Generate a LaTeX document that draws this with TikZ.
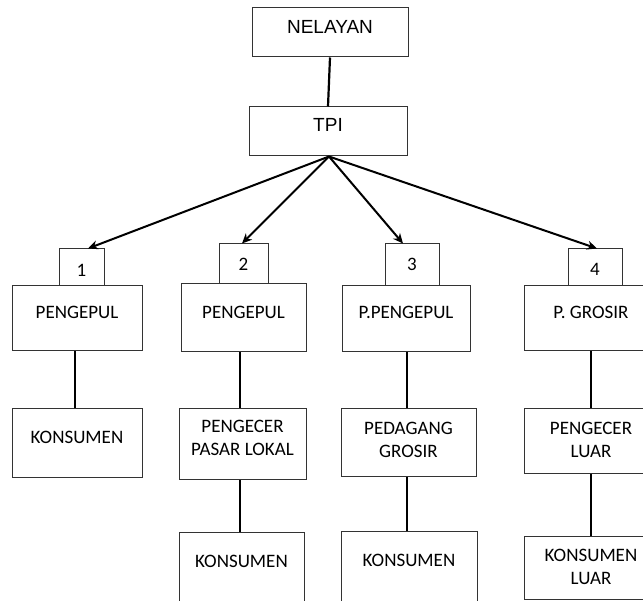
\documentclass[tikz,border=0pt]{standalone}
\usepackage{fontspec}
\setmainfont{Carlito}
\newfontfamily\arialf{Liberation Sans}
\usetikzlibrary{arrows.meta}
\begin{document}
\begin{tikzpicture}[x=1pt,y=-1pt,
  bx/.style={draw=black!80, line width=1pt, inner sep=0pt},
  lab/.style={anchor=center, align=center, inner sep=0pt, font=\fontsize{19}{23}\selectfont, text=black},
  alab/.style={anchor=center, align=center, inner sep=0pt, font=\arialf\fontsize{19}{22}\selectfont, text=black},
  conn/.style={line width=2.2pt, black},
  arr/.style={line width=2pt, black, -{Stealth[length=10pt,width=9pt]}}]
\clip (0,0) rectangle (643,601);
\fill[white] (0,0) rectangle (643,601);
% top
\node[bx, minimum width=156pt, minimum height=49pt, label={[alab,yshift=5.5pt]center:NELAYAN}] (nel) at (330,32.5) {};
\node[bx, minimum width=158pt, minimum height=49pt, label={[alab,yshift=6.5pt]center:TPI}] (tpi) at (328,131.5) {};
% numbers
\node[bx, minimum width=45pt, minimum height=37pt, label={[lab,yshift=-2.5pt]center:1}] (n1) at (81.5,267.5) {};
\node[bx, minimum width=49pt, minimum height=40pt, label={[lab,yshift=0pt]center:2}] (n2) at (243.5,264) {};
\node[bx, minimum width=54pt, minimum height=42pt, label={[lab,yshift=1pt]center:3}] (n3) at (412,265) {};
\node[bx, minimum width=54pt, minimum height=37pt, label={[lab,yshift=-1.5pt]center:4}] (n4) at (595,267.5) {};
% row b
\node[bx, minimum width=130pt, minimum height=65pt, label={[lab,yshift=6.5pt]center:PENGEPUL}] (b1) at (77,318.5) {};
\node[bx, minimum width=125pt, minimum height=68pt, label={[lab,yshift=6pt]center:PENGEPUL}] (b2) at (243.5,318) {};
\node[bx, minimum width=128pt, minimum height=66pt, label={[lab,yshift=7pt]center:P.PENGEPUL}] (b3) at (406,319) {};
\node[bx, minimum width=134pt, minimum height=65pt, label={[lab,yshift=6.5pt]center:P. GROSIR}] (b4) at (591,318.5) {};
% row c
\node[bx, minimum width=130pt, minimum height=69pt, label={[lab,yshift=6.5pt]center:KONSUMEN}] (c1) at (77,443.5) {};
\node[bx, minimum width=127pt, minimum height=71pt, label={[lab,yshift=6.5pt]center:PENGECER\\PASAR LOKAL}] (c2) at (242.5,444.5) {};
\node[bx, minimum width=135pt, minimum height=68pt, label={[lab,yshift=3.5pt]center:PEDAGANG\\GROSIR}] (c3) at (408.5,443) {};
\node[bx, minimum width=134pt, minimum height=65pt, label={[lab,yshift=1.5pt]center:PENGECER\\LUAR}] (c4) at (591,441.5) {};
% row d
\node[bx, minimum width=125pt, minimum height=77pt, label={[lab,yshift=10.5pt]center:KONSUMEN}] (d2) at (241.5,571.5) {};
\node[bx, minimum width=136pt, minimum height=78pt, label={[lab,yshift=11pt]center:KONSUMEN}] (d3) at (409,571) {};
\node[bx, minimum width=134pt, minimum height=63pt, label={[lab,yshift=1pt]center:KONSUMEN\\LUAR}] (d4) at (591,567.5) {};
% connectors
\draw[conn] (nel.south) -- (tpi.north);
\coordinate (src) at ([xshift=1pt]tpi.south);
\draw[arr] (src) -- ([xshift=6.5pt]n1.north);
\draw[arr] (src) -- ([xshift=-1.5pt]n2.north);
\draw[arr] (src) -- ([xshift=-9pt]n3.north);
\draw[arr] (src) -- ([xshift=2pt]n4.north);
\draw[conn] ([xshift=-2pt]b1.south) -- ([xshift=-2pt]c1.north);
\draw[conn] ([xshift=-3.5pt]b2.south) -- ([xshift=-3.5pt]b2.south |- c2.north);
\draw[conn] ([xshift=-2.5pt]c2.south) -- ([xshift=-2.5pt]c2.south |- d2.north);
\draw[conn] (b3.south -| 407,0) -- (c3.north -| 407,0);
\draw[conn] (c3.south -| 407,0) -- (d3.north -| 407,0);
\draw[conn] (b4.south) -- (c4.north);
\draw[conn] (c4.south) -- (d4.north);
\end{tikzpicture}
\end{document}
